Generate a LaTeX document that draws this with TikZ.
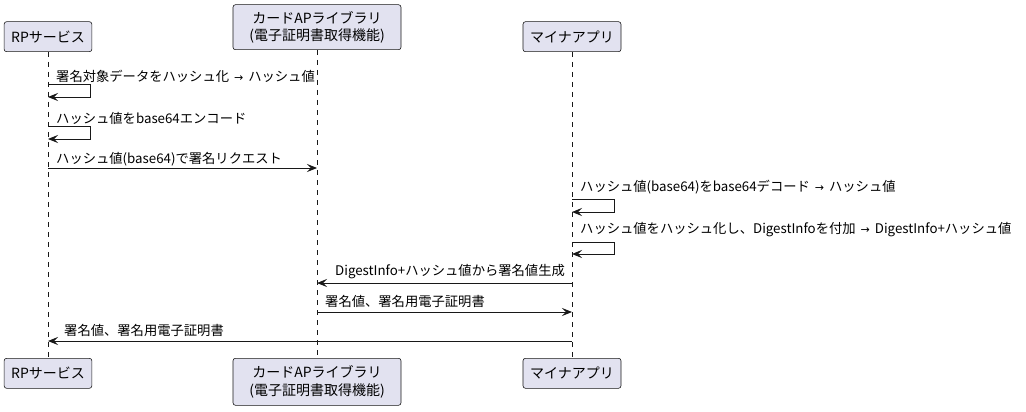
\documentclass[tikz,border=0pt]{standalone}
\usepackage{fontspec}
\setmainfont{Noto Sans CJK JP}
\newfontfamily\arrowfont{DejaVu Sans}
\newcommand{\yields}{\hspace{5pt}{\arrowfont\fontsize{11}{12}\selectfont →}\hspace{5pt}}
\usetikzlibrary{arrows.meta,positioning,calc}
\definecolor{partcol}{HTML}{E2E2F0}
\definecolor{linecol}{HTML}{181818}

\begin{document}
\begin{tikzpicture}[x=1pt, y=-1pt,
  part/.style={draw=linecol, fill=partcol, rounded corners=2.5pt, line width=0.6pt,
               minimum height=30pt, inner xsep=7pt, align=center,
               font=\fontsize{14}{17.5}\selectfont},
  lifeline/.style={draw=linecol, line width=0.5pt, dash pattern=on 5pt off 5pt},
  msg/.style={draw=linecol, line width=0.9pt, -{Stealth[length=10pt, width=8pt, inset=4pt]}},
  lbl/.style={anchor=west, inner sep=0pt, font=\fontsize{13.3}{15}\selectfont}]
  \useasboundingbox (0,0) rectangle (1026,412);

  % participants, top and bottom
  \node[part, anchor=south, minimum width=86pt]  (rpT)   at (48,52)  {RPサービス};
  \node[part, anchor=south, minimum width=168pt, minimum height=45pt] (cardT) at (317,50) {カードAPライブラリ\\(電子証明書取得機能)};
  \node[part, anchor=south, minimum width=98pt]  (minaT) at (572,52) {マイナアプリ};
  \node[part, anchor=north, minimum width=86pt]  (rpB)   at (48,358)  {RPサービス};
  \node[part, anchor=north, minimum width=168pt, minimum height=47pt] (cardB) at (317,358) {カードAPライブラリ\\(電子証明書取得機能)};
  \node[part, anchor=north, minimum width=98pt]  (minaB) at (572,358) {マイナアプリ};

  \draw[lifeline] (rpT) -- (rpB);
  \draw[lifeline] (cardT) -- (cardB);
  \draw[lifeline] (minaT) -- (minaB);

  % points on the lifelines
  \coordinate (rp1a) at (rpT.south |- 0,84);
  \coordinate (rp1b) at (rpT.south |- 0,97);
  \coordinate (rp2a) at (rpT.south |- 0,126);
  \coordinate (rp2b) at (rpT.south |- 0,139);
  \coordinate (rp3)  at (rpT.south |- 0,168);
  \coordinate (card3) at (cardT.south |- 0,168);
  \coordinate (mina4a) at (minaT.south |- 0,199);
  \coordinate (mina4b) at (minaT.south |- 0,212);
  \coordinate (mina5a) at (minaT.south |- 0,242);
  \coordinate (mina5b) at (minaT.south |- 0,254);
  \coordinate (mina6) at (minaT.south |- 0,283);
  \coordinate (card6) at (cardT.south |- 0,283);
  \coordinate (card7) at (cardT.south |- 0,312);
  \coordinate (mina7) at (minaT.south |- 0,312);
  \coordinate (mina8) at (minaT.south |- 0,341);
  \coordinate (rp8)   at (rpT.south |- 0,341);

  % messages
  \node[lbl] (hash)   at (56,76)  {署名対象データをハッシュ化\yields ハッシュ値};
  \draw[msg] (rp1a) -- ++(42,0) |- (rp1b);
  \node[lbl] (enc)    at (56,118) {ハッシュ値をbase64エンコード};
  \draw[msg] (rp2a) -- ++(42,0) |- (rp2b);
  \node[lbl] (req)    at (56,159) {ハッシュ値(base64)で署名リクエスト};
  \draw[msg] (rp3) -- (card3);
  \node[lbl] (dec)    at (580,187) {ハッシュ値(base64)をbase64デコード\yields ハッシュ値};
  \draw[msg] (mina4a) -- ++(42,0) |- (mina4b);
  \node[lbl] (digest) at (580,230) {ハッシュ値をハッシュ化し、DigestInfoを付加\yields DigestInfo+ハッシュ値};
  \draw[msg] (mina5a) -- ++(42,0) |- (mina5b);
  \node[lbl] (sign)   at (335,272) {DigestInfo+ハッシュ値から署名値生成};
  \draw[msg] (mina6) -- (card6);
  \node[lbl] (cert)   at (325,301) {署名値、署名用電子証明書};
  \draw[msg] (card7) -- (mina7);
  \node[lbl] (resp)   at (64,330) {署名値、署名用電子証明書};
  \draw[msg] (mina8) -- (rp8);
\end{tikzpicture}
\end{document}
